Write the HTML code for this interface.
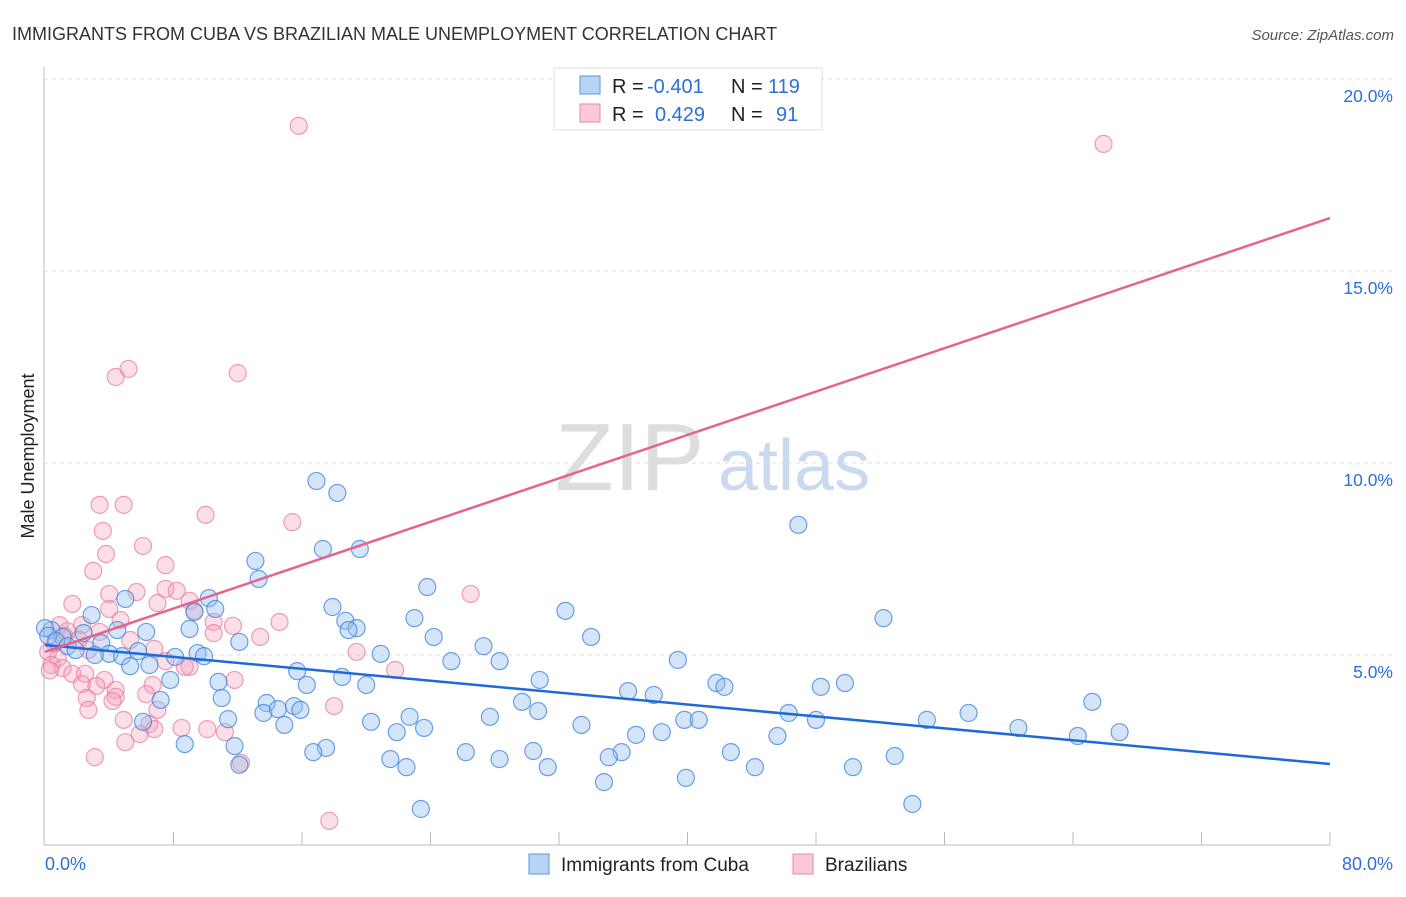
<!DOCTYPE html>
<html><head><meta charset="utf-8"><style>
body{margin:0;background:#fff;font-family:"Liberation Sans",sans-serif}
svg text{font-family:"Liberation Sans",sans-serif}
</style></head><body>
<svg id="c" width="1406" height="892">
<text x="12" y="40" font-size="18" fill="#333">IMMIGRANTS FROM CUBA VS BRAZILIAN MALE UNEMPLOYMENT CORRELATION CHART</text>
<text x="1394" y="40" font-size="15" fill="#555" text-anchor="end" font-style="italic">Source: ZipAtlas.com</text>
<text x="555" y="490" font-size="96" fill="#ddd" font-family="Liberation Serif">ZIP</text>
<text x="718" y="490" font-size="72" fill="#c9daf0">atlas</text>
<text transform="translate(34,456) rotate(-90)" font-size="18" fill="#222" text-anchor="middle">Male Unemployment</text>
<g id="grid"></g><g id="pts"></g><g id="lines"></g>
<g>
<rect x="554" y="68" width="268" height="62" fill="#fff" stroke="#ddd"/>
<rect x="580" y="76" width="20" height="18" fill="#b8d3f3" stroke="#5b93dd"/>
<rect x="580" y="104" width="20" height="18" fill="#fac8d6" stroke="#e88aa6"/>
<text x="612" y="93" font-size="20" fill="#222">R =</text>
<text x="647" y="93" font-size="20" fill="#2d6fd6">-0.401</text>
<text x="731" y="93" font-size="20" fill="#222">N =</text>
<text x="768" y="93" font-size="20" fill="#2d6fd6">119</text>
<text x="612" y="121" font-size="20" fill="#222">R =</text>
<text x="655" y="121" font-size="20" fill="#2d6fd6">0.429</text>
<text x="731" y="121" font-size="20" fill="#222">N =</text>
<text x="776" y="121" font-size="20" fill="#2d6fd6">91</text>
</g>
<g>
<rect x="529" y="854" width="20" height="20" fill="#b8d3f3" stroke="#5b93dd"/>
<text x="561" y="871" font-size="19" fill="#222">Immigrants from Cuba</text>
<rect x="793" y="854" width="20" height="20" fill="#fac8d6" stroke="#e88aa6"/>
<text x="825" y="871" font-size="19" fill="#222">Brazilians</text>
</g>
</svg>
<script>
const yTicks=[5,10,15,20];
const yTickLabels=["5.0%","10.0%","15.0%","20.0%"];
const xTickLabels=["0.0%","80.0%"];
const blueX=[16.9,18.2,17.3,19.6,13.1,13.3,23.8,46.9,10.2,5.0,17.9,32.4,10.6,9.3,52.2,23.0,2.9,18.7,19.4,18.9,9.0,6.3,4.5,24.2,34.0,2.4,0.4,1.1,27.3,12.1,3.5,20.9,9.5,9.9,5.8,4.0,4.8,8.1,25.3,28.3,39.4,6.5,5.3,15.7,18.5,30.8,7.8,10.8,16.3,20.0,49.8,48.3,41.8,42.3,36.3,37.9,7.2,11.0,13.8,29.7,65.2,13.6,14.5,15.5,15.9,30.7,57.5,46.3,22.7,27.7,39.8,40.7,48.0,54.9,20.3,11.4,6.1,33.4,14.9,23.6,21.9,60.6,64.3,66.9,36.8,38.4,45.6,8.7,11.8,17.5,16.7,26.2,30.4,42.7,35.9,35.1,52.9,21.5,28.3,22.5,31.3,44.2,50.3,12.1,39.9,34.8,23.4,54.0,0,0.2,0.7,1.4,1.9,3.1];
const blueY=[9.53,9.22,7.76,7.76,7.45,6.98,6.77,8.39,6.48,6.46,6.25,6.15,6.20,6.12,5.96,5.96,6.04,5.89,5.70,5.65,5.68,5.60,5.65,5.47,5.47,5.57,5.65,5.47,5.23,5.34,5.31,5.03,5.05,4.97,5.10,5.03,4.97,4.95,4.84,4.84,4.87,4.74,4.71,4.58,4.43,4.35,4.35,4.30,4.22,4.22,4.27,4.17,4.27,4.17,4.06,3.96,3.83,3.88,3.75,3.78,3.78,3.49,3.59,3.67,3.57,3.54,3.49,3.49,3.39,3.39,3.31,3.31,3.31,3.31,3.26,3.33,3.26,3.18,3.18,3.10,2.99,3.10,2.89,2.99,2.92,2.99,2.89,2.68,2.63,2.58,2.47,2.47,2.50,2.47,2.47,2.34,2.37,2.29,2.29,2.08,2.08,2.08,2.08,2.14,1.80,1.69,0.99,1.12,5.70,5.5,5.36,5.23,5.13,5.0];
const pinkX=[15.8,65.9,12.0,5.2,4.4,3.4,4.9,10.0,15.4,3.6,6.1,3.8,3.0,7.5,26.5,4.0,5.7,7.5,8.2,1.7,9.0,7.0,4.0,9.3,4.7,14.6,10.5,11.7,2.3,0.9,3.4,13.4,10.5,1.4,5.3,6.8,19.4,0.2,2.7,0.8,7.5,9.0,0.4,1.1,21.8,8.7,1.7,2.5,3.7,2.3,6.7,11.8,4.4,3.2,6.3,2.6,4.4,4.2,7.0,2.7,18.0,4.9,6.5,8.5,10.1,11.2,6.8,5.9,5.0,3.1,12.2,17.7,0.6,1.2,0.3,2.1];
const pinkY=[18.78,18.31,12.34,12.45,12.24,8.91,8.91,8.65,8.46,8.23,7.84,7.63,7.19,7.34,6.59,6.59,6.64,6.72,6.67,6.33,6.41,6.35,6.20,6.15,5.91,5.86,5.86,5.76,5.78,5.78,5.60,5.47,5.57,5.62,5.39,5.16,5.08,5.08,5.13,4.92,4.84,4.69,4.74,4.66,4.61,4.69,4.51,4.51,4.35,4.24,4.22,4.35,4.09,4.19,3.98,3.88,3.91,3.80,3.57,3.57,3.67,3.31,3.20,3.10,3.07,2.99,3.07,2.94,2.73,2.34,2.19,0.68,5.3,5.5,4.6,5.4];
const blueLine=[5.26,2.16];
const pinkLine=[5.08,16.38];
const NS="http://www.w3.org/2000/svg";
const X=v=>45+v*1285/80, Y=v=>847-v*38.4;
function mk(t,a,p){const e=document.createElementNS(NS,t);for(const k in a)e.setAttribute(k,a[k]);p.appendChild(e);return e;}
const g=document.getElementById('grid');
const ax=mk('line',{x1:44,y1:67,x2:44,y2:845,stroke:'#bbb'},g);


const bx=mk('line',{x1:44,y1:845,x2:1330,y2:845,stroke:'#bbb'},g);


for(let i=1;i<=10;i++){const t=mk('line',{x1:X(i*8),x2:X(i*8),y1:832,y2:845,stroke:'#bbb'},g);

}
yTicks.forEach((v,i)=>{const l=mk('line',{x1:44,x2:1394,y1:Y(v),y2:Y(v),stroke:'#ddd','stroke-dasharray':'4,4'},g);


const t=mk('text',{x:1393,y:Y(v)+23,'font-size':17.5,fill:'#2d6fd6','text-anchor':'end'},g);t.textContent=yTickLabels[i];

});
const t0=mk('text',{x:45,y:870,'font-size':18,fill:'#2d6fd6'},g);t0.textContent=xTickLabels[0];


const t1=mk('text',{x:1393,y:870,'font-size':18,fill:'#2d6fd6','text-anchor':'end'},g);t1.textContent=xTickLabels[1];


const p=document.getElementById('pts');
pinkX.forEach((x,i)=>{const c=mk('circle',{cx:X(x),cy:Y(pinkY[i]),r:8.5,fill:'rgba(244,160,185,0.35)',stroke:'rgba(232,120,155,0.7)','stroke-width':1.2},p);

});
blueX.forEach((x,i)=>{const c=mk('circle',{cx:X(x),cy:Y(blueY[i]),r:8.5,fill:'rgba(150,190,240,0.4)',stroke:'rgba(60,130,220,0.75)','stroke-width':1.2},p);

});
const L=document.getElementById('lines');
const bl=mk('line',{x1:X(0),y1:Y(blueLine[0]),x2:X(80),y2:Y(blueLine[1]),stroke:'#1f6ad8','stroke-width':2.5},L);


const pl=mk('line',{x1:X(0),y1:Y(pinkLine[0]),x2:X(80),y2:Y(pinkLine[1]),stroke:'#e5648f','stroke-width':2.5},L);


</script>
</body></html>
